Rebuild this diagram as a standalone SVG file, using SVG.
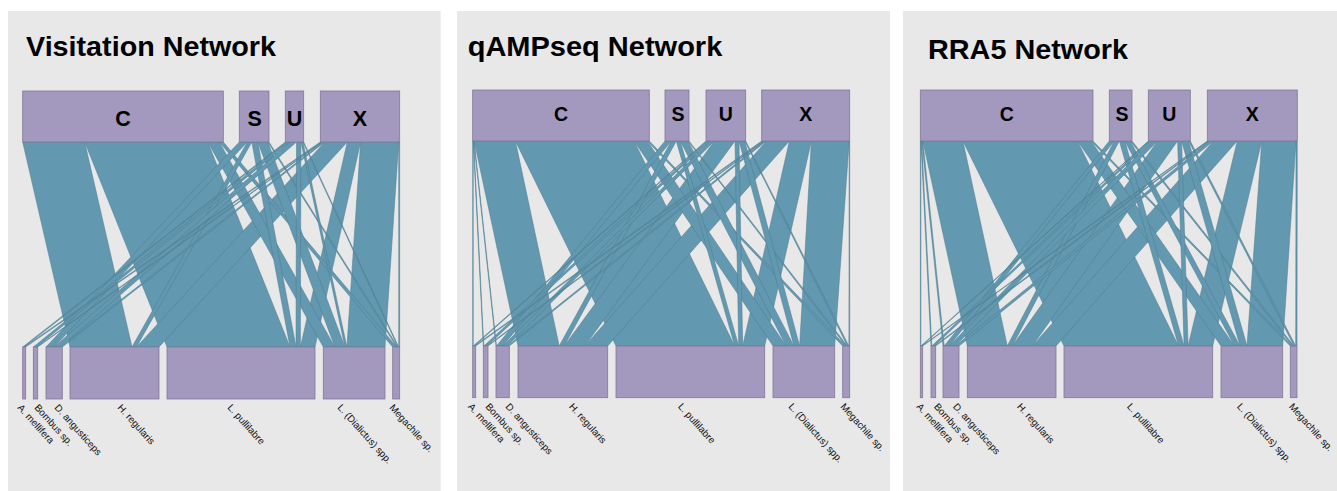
<svg xmlns="http://www.w3.org/2000/svg" width="1337" height="491" viewBox="0 0 1337 491">
<style>
.bg{fill:#e8e8e8}
.lk{fill:#6399b0;stroke:#4d7a8e;stroke-width:0.5;stroke-linejoin:round}
.box{fill:#a398bd;stroke:#827898;stroke-width:0.8}
.title{font-family:"Liberation Sans",Arial,sans-serif;font-weight:bold;font-size:28px;fill:#000}
.tl{font-family:"Liberation Sans",Arial,sans-serif;font-weight:bold;fill:#000;text-anchor:middle}
.bl{font-family:"Liberation Sans",Arial,sans-serif;font-size:9.8px;fill:#111}
</style>
<rect width="1337" height="491" fill="#ffffff"/>
<rect class="bg" x="8" y="11" width="432.7" height="480"/>
<rect class="bg" x="457" y="11" width="433" height="480"/>
<rect class="bg" x="903" y="11" width="434" height="480"/>

<text class="title" x="26" y="56" textLength="250" lengthAdjust="spacingAndGlyphs">Visitation Network</text>
<text class="title" x="467.7" y="56" textLength="254.6" lengthAdjust="spacingAndGlyphs">qAMPseq Network</text>
<text class="title" x="928" y="58.5" textLength="200" lengthAdjust="spacingAndGlyphs">RRA5 Network</text>

<g id="connectors-visitation">
<polygon class="lk" points="84.7,142 207.7,142 290,347 167,347"/>
<polygon class="lk" points="22.7,142 84.7,142 132,347 70,347"/>
<polygon class="lk" points="360.6,142 398.7,142 385,347 346.9,347"/>
<polygon class="lk" points="324.8,142 347.3,142 159,347 136.5,347"/>
<polygon class="lk" points="347.3,142 360.6,142 315,347 300.4,347"/>
<polygon class="lk" points="207.7,142 219.3,142 334.9,347 323.3,347"/>
<polygon class="lk" points="219.3,142 223.3,142 396.7,347 392.7,347"/>
<polygon class="lk" points="239.3,142 247.3,142 54,347 46,347"/>
<polygon class="lk" points="247.3,142 251.8,142 136.5,347 132,347"/>
<polygon class="lk" points="251.8,142 257.8,142 296,347 290,347"/>
<polygon class="lk" points="257.8,142 267.8,142 344.9,347 334.9,347"/>
<polygon class="lk" points="267.8,142 269,142 397.9,347 396.7,347"/>
<polygon class="lk" points="285.3,142 286.8,142 24.2,347 22.7,347"/>
<polygon class="lk" points="286.8,142 290.2,142 36.7,347 33.3,347"/>
<polygon class="lk" points="290.2,142 296.5,142 60.3,347 54,347"/>
<polygon class="lk" points="296.5,142 300.9,142 300.4,347 296,347"/>
<polygon class="lk" points="300.9,142 302.9,142 346.9,347 344.9,347"/>
<polygon class="lk" points="302.9,142 303.7,142 398.7,347 397.9,347"/>
<polygon class="lk" points="320.3,142 321.8,142 25.7,347 24.2,347"/>
<polygon class="lk" points="321.8,142 322.8,142 37.7,347 36.7,347"/>
<polygon class="lk" points="322.8,142 324.8,142 62.3,347 60.3,347"/>
<polygon class="lk" points="398.7,142 399.7,142 399.7,347 398.7,347"/>
</g>

<g id="connectors-qampseq">
<polygon class="lk" points="515.4,141 634.1,141 734.7,346 616,346"/>
<polygon class="lk" points="474.2,141 515.4,141 559.2,346 518,346"/>
<polygon class="lk" points="811.4,141 849.2,141 834.7,346 799.6,346"/>
<polygon class="lk" points="766.4,141 789.4,141 607.7,346 584.7,346"/>
<polygon class="lk" points="789.4,141 811.4,141 764.7,346 742.7,346"/>
<polygon class="lk" points="714.5,141 735,141 584.7,346 564.2,346"/>
<polygon class="lk" points="472.7,141 473.2,141 473.2,346 472.7,346"/>
<polygon class="lk" points="473.2,141 473.7,141 483.8,346 483.3,346"/>
<polygon class="lk" points="473.7,141 474.2,141 496.5,346 496,346"/>
<polygon class="lk" points="634.1,141 647.3,141 786.2,346 773,346"/>
<polygon class="lk" points="647.3,141 649.3,141 845.8,346 842.7,346"/>
<polygon class="lk" points="665,141 671.3,141 502.8,346 496.5,346"/>
<polygon class="lk" points="671.3,141 676.3,141 564.2,346 559.2,346"/>
<polygon class="lk" points="676.3,141 680.3,141 738.7,346 734.7,346"/>
<polygon class="lk" points="680.3,141 688,141 793.9,346 786.2,346"/>
<polygon class="lk" points="688,141 689,141 847.4,346 845.8,346"/>
<polygon class="lk" points="706,141 707,141 474.2,346 473.2,346"/>
<polygon class="lk" points="707,141 710,141 486.8,346 483.8,346"/>
<polygon class="lk" points="710,141 714.5,141 507.3,346 502.8,346"/>
<polygon class="lk" points="735,141 739,141 742.7,346 738.7,346"/>
<polygon class="lk" points="739,141 744.7,141 799.6,346 793.9,346"/>
<polygon class="lk" points="744.7,141 745.7,141 848.9,346 847.4,346"/>
<polygon class="lk" points="761.7,141 763.2,141 475.7,346 474.2,346"/>
<polygon class="lk" points="763.2,141 764.4,141 488,346 486.8,346"/>
<polygon class="lk" points="764.4,141 766.4,141 509.3,346 507.3,346"/>
<polygon class="lk" points="849.2,141 849.7,141 849.7,346 848.9,346"/>
</g>

<g id="connectors-rra5">
<polygon class="lk" points="962.9,141 1077.5,141 1178.6,346 1064,346"/>
<polygon class="lk" points="922.9,141 962.9,141 1007.3,346 967.3,346"/>
<polygon class="lk" points="1261.8,141 1296,141 1282.7,346 1247,346"/>
<polygon class="lk" points="1213.5,141 1237.2,141 1056,346 1032.3,346"/>
<polygon class="lk" points="1237.2,141 1261.8,141 1212.7,346 1188.1,346"/>
<polygon class="lk" points="1157.6,141 1177.6,141 1032.3,346 1012.3,346"/>
<polygon class="lk" points="920.3,141 920.9,141 920.9,346 920.3,346"/>
<polygon class="lk" points="920.9,141 921.7,141 931.8,346 931,346"/>
<polygon class="lk" points="921.7,141 922.9,141 944.2,346 943,346"/>
<polygon class="lk" points="1077.5,141 1091,141 1234.5,346 1221,346"/>
<polygon class="lk" points="1091,141 1093,141 1292.3,346 1290.3,346"/>
<polygon class="lk" points="1109.3,141 1114.3,141 949.2,346 944.2,346"/>
<polygon class="lk" points="1114.3,141 1119.3,141 1012.3,346 1007.3,346"/>
<polygon class="lk" points="1119.3,141 1124.8,141 1184.1,346 1178.6,346"/>
<polygon class="lk" points="1124.8,141 1130.3,141 1240,346 1234.5,346"/>
<polygon class="lk" points="1130.3,141 1132,141 1294,346 1292.3,346"/>
<polygon class="lk" points="1148.3,141 1149.1,141 921.7,346 920.9,346"/>
<polygon class="lk" points="1149.1,141 1151.6,141 934.3,346 931.8,346"/>
<polygon class="lk" points="1151.6,141 1157.6,141 955.2,346 949.2,346"/>
<polygon class="lk" points="1177.6,141 1181.6,141 1188.1,346 1184.1,346"/>
<polygon class="lk" points="1181.6,141 1188.6,141 1247,346 1240,346"/>
<polygon class="lk" points="1188.6,141 1190.3,141 1295.7,346 1294,346"/>
<polygon class="lk" points="1207.3,141 1208.3,141 922.7,346 921.7,346"/>
<polygon class="lk" points="1208.3,141 1209.7,141 935.7,346 934.3,346"/>
<polygon class="lk" points="1209.7,141 1213.5,141 959,346 955.2,346"/>
<polygon class="lk" points="1296,141 1297.3,141 1297,346 1295.7,346"/>
</g>

<!-- Visitation nodes -->
<g id="v-C"><rect class="box" x="22.7" y="91" width="200.6" height="51"/><text class="tl" x="123" y="126" font-size="21.5">C</text></g>
<g id="v-S"><rect class="box" x="239.3" y="91" width="29.7" height="51"/><text class="tl" x="254.6" y="126" font-size="21.5">S</text></g>
<g id="v-U"><rect class="box" x="285.3" y="91" width="18.4" height="51"/><text class="tl" x="294.5" y="126" font-size="21.5">U</text></g>
<g id="v-X"><rect class="box" x="320.3" y="91" width="79.4" height="51"/><text class="tl" x="360" y="126" font-size="21.5">X</text></g>
<g id="v-Am"><rect class="box" x="22.7" y="347" width="3" height="52"/><text class="bl" x="17" y="408" transform="rotate(48 17 408)">A. mellifera</text></g>
<g id="v-Bo"><rect class="box" x="33.3" y="347" width="4.4" height="52"/><text class="bl" x="34" y="408" transform="rotate(48 34 408)">Bombus sp.</text></g>
<g id="v-Da"><rect class="box" x="46" y="347" width="16.3" height="52"/><text class="bl" x="54" y="408" transform="rotate(48 54 408)">D. angusticeps</text></g>
<g id="v-Hr"><rect class="box" x="70" y="347" width="89" height="52"/><text class="bl" x="117" y="408" transform="rotate(48 117 408)">H. regularis</text></g>
<g id="v-Lp"><rect class="box" x="167" y="347" width="148" height="52"/><text class="bl" x="227" y="408" transform="rotate(48 227 408)">L. pullilabre</text></g>
<g id="v-Ld"><rect class="box" x="323.3" y="347" width="61.7" height="52"/><text class="bl" x="337" y="408" transform="rotate(48 337 408)">L. (Dialictus) spp.</text></g>
<g id="v-Me"><rect class="box" x="392.7" y="347" width="7" height="52"/><text class="bl" x="389" y="408" transform="rotate(48 389 408)">Megachile sp.</text></g>

<!-- qAMPseq nodes -->
<g id="q-C"><rect class="box" x="472.7" y="90" width="176.6" height="51"/><text class="tl" x="561" y="121" font-size="19.5">C</text></g>
<g id="q-S"><rect class="box" x="665" y="90" width="24" height="51"/><text class="tl" x="678" y="121" font-size="19.5">S</text></g>
<g id="q-U"><rect class="box" x="706" y="90" width="39.7" height="51"/><text class="tl" x="725.9" y="121" font-size="19.5">U</text></g>
<g id="q-X"><rect class="box" x="761.7" y="90" width="88" height="51"/><text class="tl" x="805.7" y="121" font-size="19.5">X</text></g>
<g id="q-Am"><rect class="box" x="472.7" y="346" width="3" height="51.7"/><text class="bl" x="467.5" y="407" transform="rotate(48 467.5 407)">A. mellifera</text></g>
<g id="q-Bo"><rect class="box" x="483.3" y="346" width="4.7" height="51.7"/><text class="bl" x="485" y="407" transform="rotate(48 485 407)">Bombus sp.</text></g>
<g id="q-Da"><rect class="box" x="496" y="346" width="13.3" height="51.7"/><text class="bl" x="505" y="407" transform="rotate(48 505 407)">D. angusticeps</text></g>
<g id="q-Hr"><rect class="box" x="518" y="346" width="89.7" height="51.7"/><text class="bl" x="568.5" y="407" transform="rotate(48 568.5 407)">H. regularis</text></g>
<g id="q-Lp"><rect class="box" x="616" y="346" width="148.7" height="51.7"/><text class="bl" x="677.5" y="407" transform="rotate(48 677.5 407)">L. pullilabre</text></g>
<g id="q-Ld"><rect class="box" x="773" y="346" width="61.7" height="51.7"/><text class="bl" x="788" y="407" transform="rotate(48 788 407)">L. (Dialictus) spp.</text></g>
<g id="q-Me"><rect class="box" x="842.7" y="346" width="7" height="51.7"/><text class="bl" x="840" y="407" transform="rotate(48 840 407)">Megachile sp.</text></g>

<!-- RRA5 nodes -->
<g id="r-C"><rect class="box" x="920.3" y="90" width="172.7" height="51"/><text class="tl" x="1006.7" y="121" font-size="19.5">C</text></g>
<g id="r-S"><rect class="box" x="1109.3" y="90" width="22.7" height="51"/><text class="tl" x="1122" y="121" font-size="19.5">S</text></g>
<g id="r-U"><rect class="box" x="1148.3" y="90" width="42" height="51"/><text class="tl" x="1169.3" y="121" font-size="19.5">U</text></g>
<g id="r-X"><rect class="box" x="1207.3" y="90" width="90" height="51"/><text class="tl" x="1252.3" y="121" font-size="19.5">X</text></g>
<g id="r-Am"><rect class="box" x="920.3" y="346" width="2.4" height="51.7"/><text class="bl" x="916" y="407" transform="rotate(48 916 407)">A. mellifera</text></g>
<g id="r-Bo"><rect class="box" x="931" y="346" width="4.7" height="51.7"/><text class="bl" x="933.5" y="407" transform="rotate(48 933.5 407)">Bombus sp.</text></g>
<g id="r-Da"><rect class="box" x="943" y="346" width="16" height="51.7"/><text class="bl" x="952.5" y="407" transform="rotate(48 952.5 407)">D. angusticeps</text></g>
<g id="r-Hr"><rect class="box" x="967.3" y="346" width="88.7" height="51.7"/><text class="bl" x="1016.5" y="407" transform="rotate(48 1016.5 407)">H. regularis</text></g>
<g id="r-Lp"><rect class="box" x="1064" y="346" width="148.7" height="51.7"/><text class="bl" x="1126.5" y="407" transform="rotate(48 1126.5 407)">L. pullilabre</text></g>
<g id="r-Ld"><rect class="box" x="1221" y="346" width="61.7" height="51.7"/><text class="bl" x="1236.5" y="407" transform="rotate(48 1236.5 407)">L. (Dialictus) spp.</text></g>
<g id="r-Me"><rect class="box" x="1290.3" y="346" width="6.7" height="51.7"/><text class="bl" x="1288.5" y="407" transform="rotate(48 1288.5 407)">Megachile sp.</text></g>
</svg>
